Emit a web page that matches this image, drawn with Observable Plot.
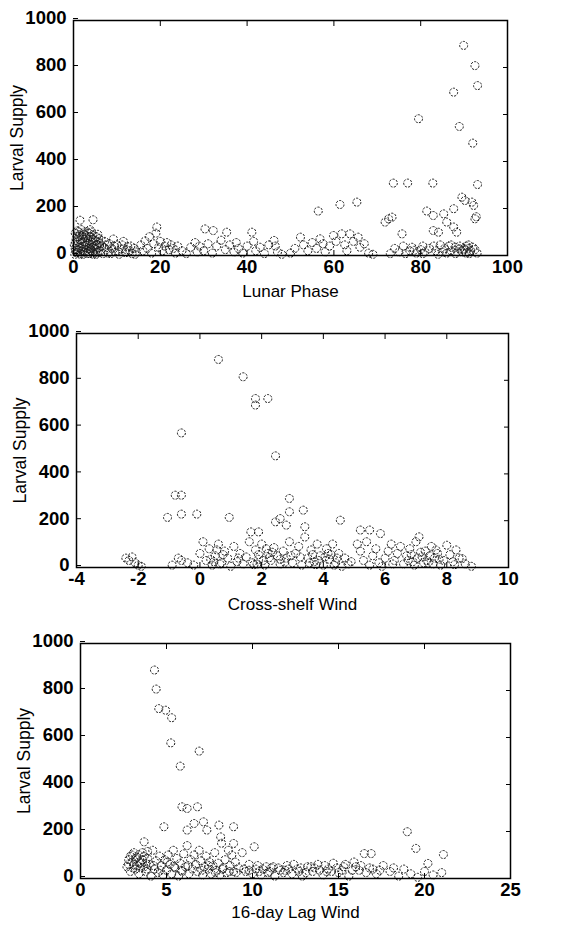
<!DOCTYPE html>
<html><head><meta charset="utf-8">
<script src="https://cdn.jsdelivr.net/npm/d3@7"></script>
<script src="https://cdn.jsdelivr.net/npm/@observablehq/plot@0.6"></script>
<style>
body{margin:0;background:#fff;}
#wrap{position:relative;width:582px;height:925px;overflow:hidden;}
.panel{position:absolute;left:0;}
</style></head><body><div id="wrap"></div>
<script>
const yTicks = [0, 200, 400, 600, 800, 1000];
const lunarTicks = [0, 20, 40, 60, 80, 100];
const crossTicks = [-4, -2, 0, 2, 4, 6, 8, 10];
const lagTicks = [0, 5, 10, 15, 20, 25];
const yLabel = "Larval Supply";
const xLabels = ["Lunar Phase", "Cross-shelf Wind", "16-day Lag Wind"];

// [lunar phase, larval supply]
const lunarPoints = [
[0.3,5],[0.5,20],[0.8,40],[1.0,60],[1.2,80],[0.4,95],[0.9,105],[1.5,10],[1.7,30],[1.9,50],[2.1,70],[2.3,90],[2.5,100],
[2.7,15],[2.9,35],[3.1,55],[3.3,75],[3.5,95],[3.7,8],[3.9,28],[4.1,48],[4.3,68],[4.5,88],[4.7,20],[4.9,42],[5.1,62],
[5.3,80],[5.5,12],[5.7,33],[5.9,54],[0.2,45],[0.6,70],[1.1,25],[1.4,88],[1.8,110],[2.2,5],[2.6,58],[3.0,85],[3.4,18],
[3.8,62],[4.2,100],[4.6,5],[5.0,30],[5.4,45],[5.8,72],[6.2,20],[6.5,40],[6.8,8],[7.2,60],[7.5,25],[8.0,10],[8.3,50],
[8.8,30],[9.2,70],[9.6,15],[10.0,45],[10.5,5],[11.0,28],[11.5,60],[12.0,12],[12.5,38],[13.0,20],[13.5,8],[14.0,30],
[14.5,15],[1.5,150],[4.5,152],[3.8,110],[0.7,12],[1.3,35],[2.0,22],[2.8,45],[3.6,30],[4.4,12],[5.2,25],[6.0,50],
[0.5,55],[0.9,80],[1.2,100],[1.6,65],[2.0,85],[2.4,40],[2.8,75],[3.2,100],[3.6,50],[4.0,80],[4.4,35],[4.8,65],[5.2,5],
[5.6,90],[0.4,30],[1.0,15],[1.6,5],[2.4,18],[3.2,8],[4.0,22],[6.4,65],[7.0,35],[7.8,45],[8.6,8],[9.4,40],[10.2,20],
[11.2,45],[12.2,25],[13.2,40],[14.2,5],
[15.5,45],[16.0,20],[16.5,62],[17.0,30],[17.5,80],[18.0,10],[18.5,50],[19.0,95],[19.2,121],[19.6,35],[20.0,60],[20.5,20],
[21.0,40],[21.5,55],[22.0,25],[22.5,45],[23.0,30],[23.5,10],[24.0,40],[25.0,20],[26.0,8],[27.0,35],[28.0,55],[28.5,15],
[29.0,40],[30.0,20],[30.3,113],[31.0,50],[32.0,10],[32.2,106],[33.0,40],[34.0,65],[35.0,25],[35.3,99],[36.0,45],[37.0,15],
[37.5,55],[38.0,30],[39.0,10],[40.0,40],[41.1,99],[41.5,60],[42.0,20],[43.0,35],[44.0,8],[45.0,45],[46.2,64],[46.5,40],
[47.0,15],[48.0,5],[50.0,10],[51.0,30],[52.3,78],[53.0,45],[54.0,20],[55.0,55],[56.0,30],[56.4,189],[56.8,71],[57.5,50],
[58.0,15],[59.0,40],[59.9,85],[60.5,60],[61.4,217],[61.8,92],[62.5,45],[63.0,20],[63.7,92],[64.5,60],[65.3,227],[65.6,78],
[66.0,35],[67.0,50],[68.0,10],[69.0,5],
[71.8,142],[72.6,156],[73.4,163],[73.7,308],[74.0,30],[75.0,15],[75.7,92],[76.0,40],[77.0,308],[77.5,20],[78.0,35],
[79.0,10],[79.5,582],[80.0,25],[80.5,40],[81.0,15],[81.4,189],[82.0,30],[82.8,308],[82.9,170],[82.9,106],[83.5,20],
[84.1,99],[84.5,45],[85.0,15],[85.3,177],[85.5,30],[86.0,142],[86.5,40],[87.0,20],[87.6,199],[87.6,121],[87.6,695],
[88.0,35],[88.3,99],[88.5,15],[88.9,549],[89.0,40],[89.5,248],[89.9,894],[90.0,25],[90.2,234],[90.5,10],[91.0,30],
[91.5,20],[91.8,227],[92.0,478],[92.2,213],[92.5,156],[92.5,808],[92.8,165],[93.1,723],[93.1,302],[92.0,35],[89.0,28],[90.0,30],
[84.0,5],[86.0,10],[87.0,45],[88.0,8],[89.5,15],[90.5,40],[91.2,8],[92.5,25],[93.0,10],[91.0,45],[76.5,8],[78.5,22],
[80.5,8],[83.0,40],[73.0,8]
];

// [cross-shelf wind, larval supply]
const crossPoints = [
[0.6,889],[1.4,815],[1.8,722],[2.2,722],[1.8,694],[-0.6,575],[2.45,477],[-0.8,309],[-0.6,309],[2.9,295],
[-1.05,214],[-0.6,228],[-0.1,228],[0.95,214],[3.35,245],[2.9,238],[2.6,209],[2.8,181],[2.45,195],[3.4,174],
[4.55,202],[5.2,160],[5.5,160],[5.85,145],[1.65,152],[1.9,152],
[-2.4,40],[-2.3,30],[-2.2,45],[-2.1,20],[-2.0,10],[-1.9,5],[-0.9,10],[-0.7,40],[-0.6,30],[-0.4,20],[-0.2,10],
[0.0,60],[0.1,110],[0.2,30],[0.3,80],[0.4,10],[0.5,50],[0.6,100],[0.7,20],[0.8,70],[0.9,40],[1.0,5],[1.1,90],[1.2,25],
[1.3,60],[1.4,15],[1.5,45],[1.6,110],[1.7,20],[1.8,75],[1.9,35],[2.0,100],[2.1,10],[2.2,60],[2.3,30],[2.4,85],[2.5,50],
[2.6,15],[2.7,70],[2.8,40],[2.9,110],[3.0,20],[3.1,60],[3.2,90],[3.3,10],[3.4,130],[3.5,40],[3.6,75],[3.7,25],[3.8,100],
[3.9,50],[4.0,10],[4.1,80],[4.2,35],[4.3,100],[4.4,20],[4.5,60],[4.6,5],[4.7,40],[4.8,15],[4.9,25],[5.1,100],[5.2,70],
[5.3,30],[5.4,110],[5.5,10],[5.6,50],[5.7,80],[5.8,20],[5.9,5],[6.0,40],[6.1,70],[6.2,100],[6.3,30],[6.4,60],[6.5,90],
[6.6,15],[6.7,50],[6.8,80],[6.9,25],[7.0,110],[7.1,131],[7.2,45],[7.3,70],[7.4,20],[7.5,90],[7.6,40],[7.7,60],[7.8,10],
[7.9,30],[8.0,95],[8.1,55],[8.2,25],[8.3,75],[8.4,40],[8.5,38],[8.6,15],[8.8,5],
[0.35,35],[0.75,55],[1.25,40],[1.75,12],[2.25,42],[2.75,22],[3.25,45],[3.75,12],[4.25,55],[6.25,15],[6.75,30],[7.25,20],[7.75,35],[8.25,12],
[1.9,55],[2.05,30],[2.15,80],[1.85,15],[2.35,65],[3.55,20],[3.65,55],[3.85,30],[4.05,45],[4.15,60],[4.35,10],[4.45,40],
[6.85,55],[6.95,10],[7.05,40],[7.15,65],[7.35,30],[7.45,50],[7.55,15],[7.65,75],[0.45,25],[0.55,75],[0.65,15],[2.6,35],[2.95,50]
];

// [16-day lag wind, larval supply]
const lagPoints = [
[4.3,887],[4.4,806],[4.55,723],[4.95,716],[5.3,684],[5.25,577],[6.9,542],[5.8,478],[5.9,305],[6.8,305],[6.2,298],
[4.85,220],[6.6,234],[7.15,241],[7.35,206],[8.05,227],[8.9,220],[6.2,206],[19.0,199],[19.5,128],[21.1,102],
[16.5,106],[16.9,106],[20.2,64],[3.7,156],[8.15,177],[8.9,149],[10.1,135],
[2.7,50],[2.8,80],[2.9,30],[3.0,100],[3.1,60],[3.2,40],[3.3,90],[3.4,20],[3.5,70],[3.6,110],[3.7,50],[3.8,30],[3.9,85],
[4.0,60],[4.1,10],[4.2,120],[4.3,40],[4.4,75],[4.5,25],[4.6,95],[4.7,55],[4.8,15],[4.9,80],[5.0,35],[5.1,100],[5.2,60],
[5.3,20],[5.4,120],[5.5,45],[5.6,85],[5.7,10],[5.8,65],[5.9,30],[6.0,105],[6.1,50],[6.2,140],[6.3,20],[6.4,80],[6.5,40],
[6.6,100],[6.7,60],[6.8,30],[6.9,120],[7.0,75],[7.1,15],[7.2,50],[7.3,95],[7.4,40],[7.5,70],[7.6,20],[7.7,55],[7.8,110],
[7.9,35],[8.0,65],[8.1,15],[8.2,150],[8.3,45],[8.4,80],[8.5,25],[8.6,120],[8.7,55],[8.8,100],[8.9,30],[9.0,70],[9.2,45],
[9.4,110],[9.6,30],[9.8,60],[10.0,20],[10.2,40],[10.5,15],[10.8,50],[11.0,30],[11.3,10],[11.5,45],[11.8,25],[12.0,55],
[12.3,20],[12.6,40],[12.9,10],[13.2,50],[13.5,30],[13.8,60],[14.1,15],[14.4,40],[14.7,65],[15.0,25],[15.3,50],[15.6,10],
[15.9,70],[16.2,35],[16.8,45],[17.2,20],[17.6,55],[18.0,30],[18.5,10],[18.8,40],[19.2,20],[19.6,5],[20.0,30],[20.5,15],[21.0,25],
[3.05,45],[3.45,65],[3.85,40],[4.25,55],[4.65,35],[5.05,70],[5.45,50],[5.85,35],[6.25,55],[7.05,35],[7.45,55],[7.85,25],
[8.25,40],[8.65,30],[9.05,25],[9.5,40],[10.4,30],[11.1,45],[11.9,35],[12.7,30],[13.6,45],[14.3,30],[15.2,35],[16.0,50],
[2.8,60],[2.9,95],[3.0,70],[3.1,110],[3.2,85],[3.3,55],[3.4,100],[3.5,45],[3.6,80],[3.7,95],[3.8,65],[3.9,115],
[9.8,35],[10.3,55],[10.6,40],[10.9,25],[11.2,50],[11.6,35],[12.1,40],[12.4,60],[12.8,45],[13.1,25],[13.4,50],[13.9,35],
[14.2,55],[14.6,30],[14.9,45],[15.4,60],[15.8,35],[16.3,55],[16.6,25],[17.0,40],[17.4,35],[18.2,45]
];

const panels = [
  {points: lunarPoints, domain: [0, 100], ticks: lunarTicks, label: xLabels[0], top: 0, height: 305, mt: 20, mb: 50, ml: 73, mr: 75, lo: 41},
  {points: crossPoints, domain: [-4, 10], ticks: crossTicks, label: xLabels[1], top: 310, height: 305, mt: 23, mb: 48, ml: 76, mr: 74, lo: 42},
  {points: lagPoints, domain: [0, 25], ticks: lagTicks, label: xLabels[2], top: 620, height: 305, mt: 23, mb: 47, ml: 80, mr: 72, lo: 39}
];

const fmt = d => String(d);
const wrap = document.getElementById("wrap");
for (const p of panels) {
  const chart = Plot.plot({
    width: 582, height: p.height,
    marginTop: p.mt, marginBottom: p.mb, marginLeft: p.ml, marginRight: p.mr,
    style: {fontFamily: "'Liberation Sans', Arial, sans-serif", fontSize: "18px", color: "#000", background: "transparent", overflow: "visible"},
    x: {domain: p.domain},
    y: {domain: [0, 1000]},
    marks: [
      Plot.dot(p.points, {x: d => d[0], y: d => d[1], r: 4, stroke: "#1a1a1a", strokeWidth: 1, strokeDasharray: "2.2,1.3", fill: "none"}),
      Plot.frame({stroke: "#000", strokeWidth: 1.5}),
      Plot.axisX(p.ticks, {anchor: "bottom", tickSize: -5, tickPadding: 9, label: null, fontWeight: "bold", fontSize: 18.5, tickFormat: fmt}),
      Plot.axisX(p.ticks, {anchor: "bottom", tickSize: 0, tickFormat: () => "", label: p.label, labelAnchor: "center", labelArrow: "none", labelOffset: p.lo, fontSize: 17}),
      Plot.axisX(p.ticks, {anchor: "top", tickSize: -5, tickFormat: () => "", label: null}),
      Plot.axisY(yTicks, {anchor: "left", tickSize: -5, tickPadding: 12, dy: -2, label: null, fontWeight: "bold", fontSize: 18.5, tickFormat: fmt}),
      Plot.axisY(yTicks, {anchor: "left", tickSize: 0, tickFormat: () => "", label: yLabel, labelAnchor: "center", labelArrow: "none", labelOffset: 63, fontSize: 17.5}),
      Plot.axisY(yTicks, {anchor: "right", tickSize: -5, tickFormat: () => "", label: null})
    ]
  });
  chart.classList.add("panel");
  chart.style.top = p.top + "px";
  wrap.appendChild(chart);
}
</script></body></html>
